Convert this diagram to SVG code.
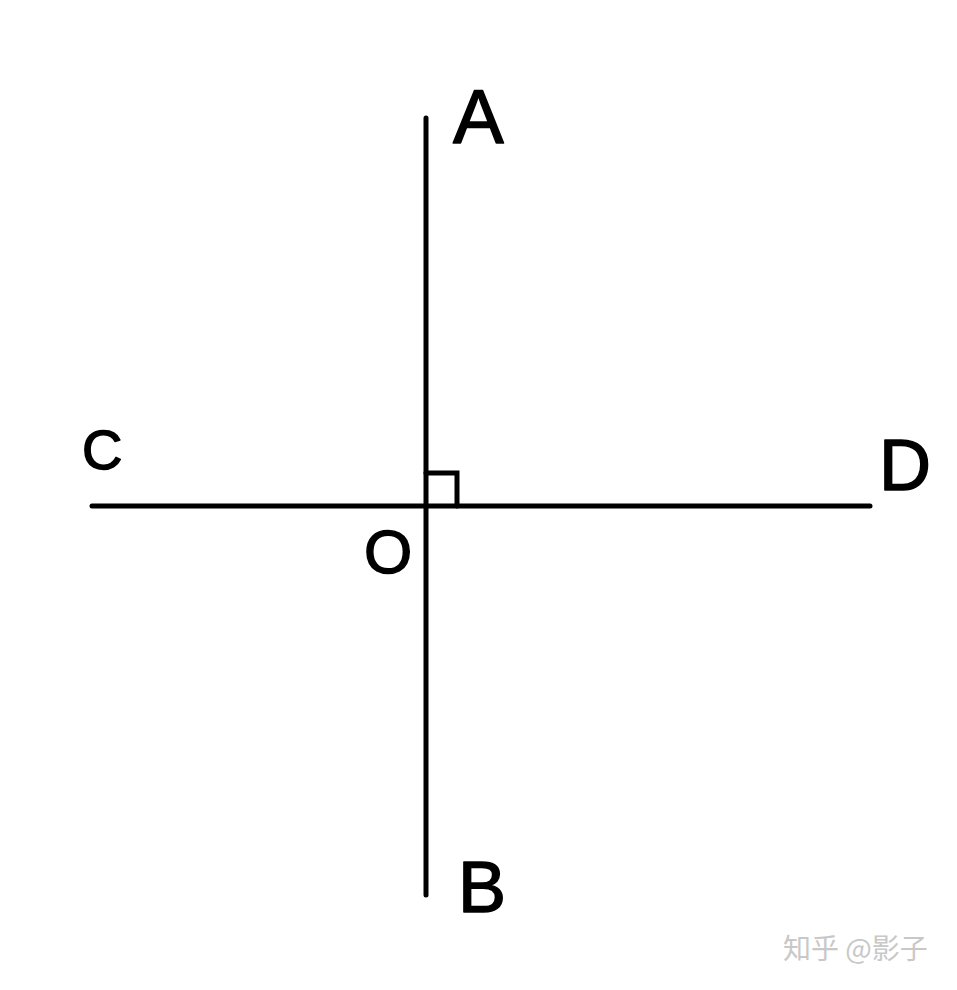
<svg xmlns="http://www.w3.org/2000/svg" width="957" height="990" viewBox="0 0 957 990">
<style>
.ln{stroke:#000;stroke-width:5;stroke-linecap:round;fill:none}
.lb{font-family:"Liberation Sans","DejaVu Sans",sans-serif;fill:#000;stroke:#000;stroke-width:1.5;stroke-linejoin:round}
.wm{font-family:"Noto Sans CJK SC","Noto Sans",sans-serif;font-size:28px;fill:#c8c8c8}
</style>
<rect width="957" height="990" fill="#fff"/>
<g id="connectors">
<line class="ln" x1="426" y1="118" x2="426" y2="895"/>
<line class="ln" x1="92" y1="506" x2="870" y2="506"/>
<polyline class="ln" points="426,473 457,473 457,506"/>
</g>
<g id="A"><text class="lb" x="453" y="143" font-size="76">A</text></g>
<g id="B"><text class="lb" x="458" y="912" font-size="72">B</text></g>
<g id="C"><text class="lb" x="82" y="469" font-size="56">C</text></g>
<g id="D"><text class="lb" x="879" y="490" font-size="72">D</text></g>
<g id="O"><text class="lb" x="364" y="573" font-size="62">O</text></g>
<g id="watermark"><text class="wm" x="783" y="959">知乎 @影子</text></g>
</svg>
